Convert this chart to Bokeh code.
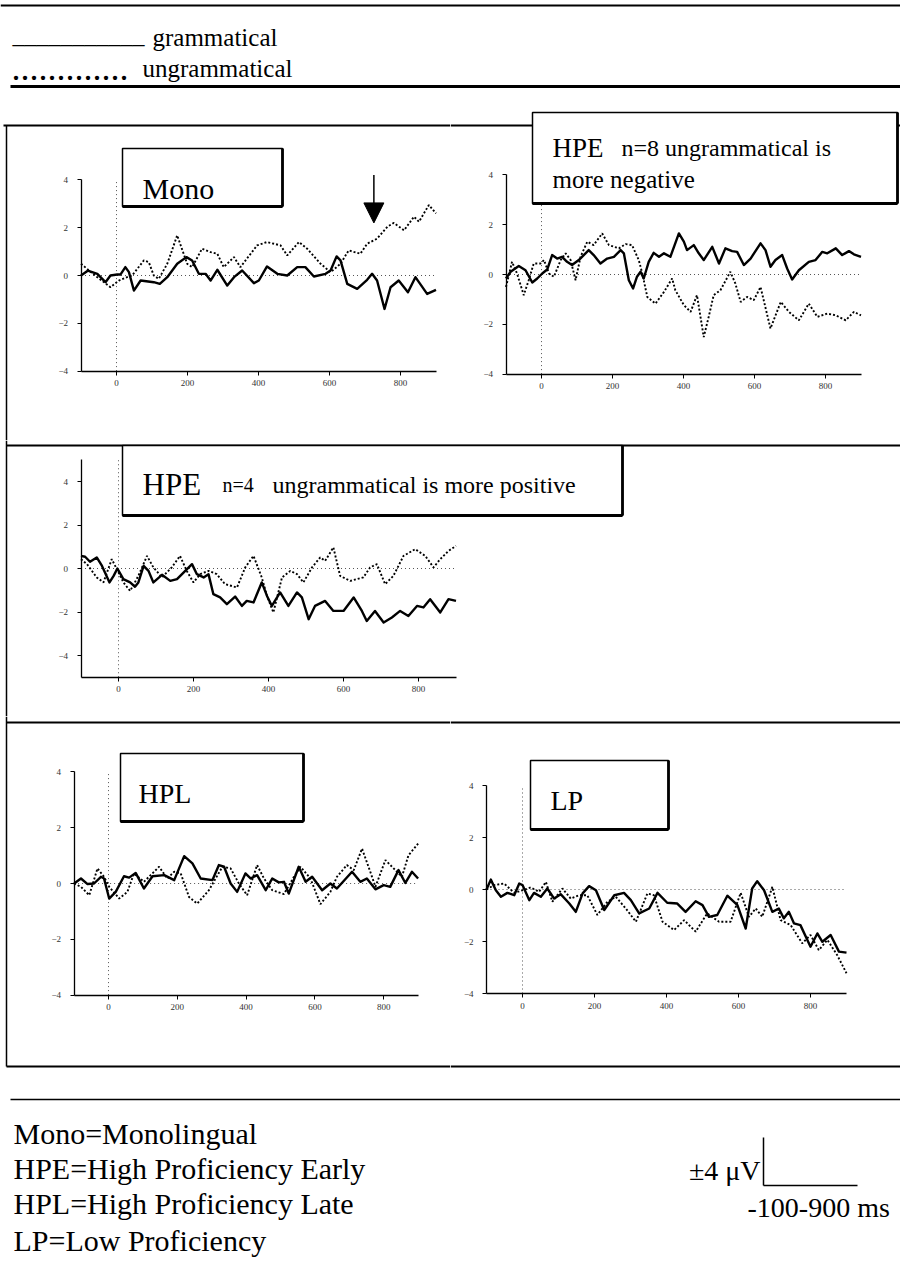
from bokeh.plotting import figure
from bokeh.layouts import column, row
from bokeh.models import Range1d, FixedTicker, Arrow, NormalHead
from bokeh.core.properties import value
from bokeh.embed import file_html
from bokeh.resources import INLINE

SERIF = "Liberation Serif"
T_START, T_END = -100, 900
TIME_TICKS = [0, 200, 400, 600, 800]
AMP_TICKS = [-4, -2, 0, 2, 4]

# ---------------- data (ms, microvolts) ----------------
mono_gram_t = [-100, -81, -54, -31, -17, 2, 11, 25, 35, 49, 68, 105, 122, 143, 171, 197, 213, 232, 251, 265,
               284, 312, 331, 354, 387, 401, 424, 453, 481, 509, 532, 556, 589, 603, 620, 631, 650, 678, 706, 720,
               734, 755, 772, 795, 821, 842, 875, 900]
mono_gram_v = [0, 0.2, 0.07, -0.28, 0, 0.04, 0.04, 0.35, 0.14, -0.63, -0.21, -0.28, -0.35, -0.07, 0.49, 0.77, 0.63, 0.07, 0.07, -0.21,
               0.24, -0.42, -0.07, 0.21, -0.32, -0.21, 0.38, 0.07, 0, 0.35, 0.35, -0.04, 0.07, 0.21, 0.8, 0.63, -0.35, -0.56, -0.18, 0.07,
               -0.21, -1.4, -0.49, -0.21, -0.7, -0.07, -0.77, -0.6]
mono_ungram_t = [-100, -83, -54, -17, 7, 30, 44, 77, 91, 105, 119, 143, 171, 199, 213, 241, 265, 284, 302, 331,
                 349, 396, 424, 462, 481, 514, 537, 575, 603, 631, 654, 687, 706, 734, 763, 781, 810, 838, 852, 880, 900]
mono_ungram_v = [0.49, 0.28, -0.07, -0.49, -0.21, -0.07, 0, 0.63, 0.56, 0, -0.14, 0.49, 1.68, 0.49, 0.35, 1.12, 0.98, 0.91, 0.35, 0.77,
                 0.35, 1.26, 1.4, 1.26, 0.84, 1.4, 1.12, 0.49, 0.14, 0.49, 1.05, 0.91, 1.33, 1.54, 2.04, 2.2, 1.89, 2.46, 2.25, 2.95, 2.6]

hpe8_gram_t = [-100, -87, -64, -45, -26, -12, 2, 16, 30, 44, 58, 72, 86, 105, 119, 133, 147, 166, 185, 204,
               223, 232, 246, 258, 269, 279, 288, 302, 316, 331, 345, 363, 387, 401, 410, 429, 443, 457, 481, 500,
               518, 537, 551, 570, 589, 617, 631, 645, 659, 678, 692, 706, 725, 753, 772, 791, 805, 829, 847, 866, 880, 900]
hpe8_gram_v = [-0.16, 0.11, 0.34, 0.17, -0.32, -0.16, 0.04, 0.2, 0.78, 0.64, 0.71, 0.51, 0.38, 0.58, 0.78, 0.98, 0.78, 0.44, 0.64, 0.71,
               0.98, 0.85, -0.23, -0.56, -0.09, 0.11, -0.16, 0.51, 0.87, 0.71, 0.85, 0.71, 1.65, 1.32, 0.98, 1.18, 0.85, 0.58, 1.11, 0.44,
               1.05, 0.94, 0.91, 0.38, 0.64, 1.25, 0.98, 0.31, 0.58, 0.78, 0.24, -0.2, 0.17, 0.51, 0.58, 0.91, 0.85, 1.05, 0.78, 0.94, 0.81, 0.71]
hpe8_ungram_t = [-100, -83, -69, -50, -36, -22, -3, 7, 21, 35, 54, 68, 82, 96, 110, 129, 147, 171, 190, 218,
                 237, 255, 274, 284, 298, 321, 345, 368, 377, 401, 420, 438, 457, 471, 485, 504, 532, 546, 561, 579,
                 598, 617, 645, 674, 697, 725, 753, 777, 805, 829, 857, 880, 900]
hpe8_ungram_v = [-0.5, 0.51, 0.04, -0.83, -0.23, 0.44, 0.44, 0.58, 0.04, -0.09, 0.58, 0.85, 0.58, -0.23, 0.71, 1.32, 1.18, 1.65, 1.18, 1.05,
                 1.22, 1.18, 0.58, 0.04, -0.9, -1.17, -0.7, -0.16, -0.63, -1.23, -1.5, -0.83, -2.51, -1.7, -0.83, -0.63, 0.11, -0.36, -1.1, -0.9,
                 -1.03, -0.5, -2.17, -1.1, -1.5, -1.84, -1.17, -1.7, -1.57, -1.64, -1.84, -1.5, -1.64]

hpe4_gram_t = [-100, -89, -76, -58, -44, -24, -13, -3, 13, 31, 44, 53, 67, 80, 93, 116, 138, 156, 178, 196,
               209, 227, 240, 253, 271, 289, 311, 329, 342, 360, 382, 396, 409, 431, 453, 476, 489, 507, 524, 551,
               573, 600, 627, 649, 662, 684, 707, 729, 751, 773, 796, 813, 831, 858, 880, 900]
hpe4_gram_v = [0.58, 0.54, 0.31, 0.51, 0.12, -0.64, -0.34, 0, -0.49, -0.64, -0.84, -0.64, 0.12, -0.11, -0.64, -0.29, -0.57, -0.49, -0.11, 0.2,
               -0.26, -0.41, -0.26, -1.18, -1.33, -1.64, -1.29, -1.72, -1.49, -1.56, -0.64, -1.26, -1.72, -1.1, -1.72, -1.1, -1.33, -2.33, -1.72, -1.49,
               -1.95, -1.95, -1.33, -1.95, -2.41, -1.95, -2.48, -2.25, -1.95, -2.18, -1.72, -1.79, -1.41, -2.02, -1.41, -1.49]
hpe4_ungram_t = [-100, -84, -58, -40, -18, 0, 13, 31, 53, 76, 93, 116, 142, 164, 182, 200, 218, 240, 262, 284,
                 316, 338, 360, 382, 396, 413, 436, 458, 476, 493, 516, 538, 551, 573, 591, 618, 653, 671, 689, 711,
                 733, 760, 791, 818, 840, 858, 880, 900]
hpe4_ungram_v = [0.43, 0.2, -0.41, -0.64, 0.43, -0.18, -0.64, -1.03, -0.34, 0.58, 0.05, -0.41, 0.05, 0.58, -0.11, -0.64, -0.26, -0.11, -0.26, -0.72,
                 -0.87, 0.05, 0.58, -0.41, -1.26, -2.02, -0.41, -0.11, -0.26, -0.64, 0.05, 0.51, 0.35, 0.97, -0.34, -0.57, -0.41, 0.05, 0.2, -0.72,
                 -0.34, 0.58, 0.89, 0.58, 0.05, 0.43, 0.81, 1.04]

hpl_gram_t = [-100, -80, -61, -42, -22, -13, 2, 21, 45, 60, 79, 103, 128, 162, 191, 220, 244, 268, 302, 321,
              336, 355, 374, 398, 413, 432, 457, 476, 495, 510, 524, 553, 573, 592, 621, 645, 664, 708, 732, 751,
              776, 800, 819, 843, 863, 882, 900]
hpl_gram_v = [0, 0.18, -0.02, 0, 0.24, 0.18, -0.54, -0.3, 0.26, 0.21, 0.38, -0.18, 0.26, 0.3, 0.12, 0.98, 0.72, 0.18, 0.12, 0.66,
              0.6, 0, -0.3, 0.36, 0.18, 0.3, -0.24, 0.18, 0.04, 0.06, -0.36, 0.6, 0.06, 0.24, -0.24, 0, -0.18, 0.42, 0.06, 0.18,
              -0.21, -0.06, -0.12, 0.48, 0.02, 0.42, 0.18]
hpl_ungram_t = [-100, -80, -56, -32, -13, 2, 31, 55, 74, 103, 147, 171, 191, 210, 234, 258, 292, 331, 355, 379,
                403, 432, 452, 476, 510, 539, 558, 587, 616, 645, 664, 693, 713, 737, 761, 776, 805, 829, 853, 872, 900]
hpl_ungram_v = [0, -0.12, -0.42, 0.54, 0.24, -0.12, -0.54, -0.3, 0.36, 0.06, 0.6, 0.18, 0.42, 0.36, -0.48, -0.72, -0.24, 0.6, 0.54, 0,
                -0.42, 0.66, 0.18, -0.24, -0.38, 0.24, 0.6, 0.18, -0.74, -0.3, 0.24, 0.66, 0.48, 1.25, 0.42, -0.12, 0.84, 0.54, 0.24, 1.01, 1.43]

lp_gram_t = [-100, -88, -74, -60, -42, -23, -9, 0, 19, 32, 51, 69, 88, 106, 130, 148, 167, 185, 204, 227,
             255, 282, 301, 324, 352, 375, 402, 430, 453, 481, 500, 518, 541, 569, 597, 620, 638, 652, 671, 694,
             712, 726, 740, 754, 772, 800, 819, 833, 856, 879, 900]
lp_gram_v = [0, 0.38, -0.03, -0.28, -0.13, -0.22, 0.23, 0.17, -0.41, -0.13, -0.28, 0.04, -0.35, -0.18, -0.54, -0.86, -0.15, 0.13, -0.03, -0.79,
             -0.22, -0.13, -0.41, -0.92, -0.73, -0.13, -0.51, -0.54, -0.86, -0.45, -0.6, -1.05, -0.98, -0.24, -0.6, -1.5, 0.04, 0.32, -0.03, -0.86,
             -0.73, -1.11, -0.86, -1.3, -1.37, -2.2, -1.69, -2.01, -1.75, -2.39, -2.43]
lp_ungram_t = [-100, -79, -51, -23, 0, 23, 46, 65, 83, 111, 134, 157, 180, 208, 236, 259, 287, 315, 347, 365,
               389, 421, 449, 481, 513, 546, 578, 606, 629, 648, 666, 694, 717, 745, 777, 800, 823, 847, 874, 900]
lp_ungram_v = [0, 0.17, 0.23, -0.13, -0.03, 0.08, -0.09, 0.29, -0.47, 0.04, -0.35, -0.22, -0.22, -0.98, -0.47, -0.28, -0.73, -1.24, -0.15, -0.22,
               -1.24, -1.56, -1.18, -1.62, -0.92, -1.24, -1.24, -0.13, -1.05, -0.73, -1.05, 0.1, -1.18, -1.37, -2.07, -1.75, -2.33, -1.94, -2.52, -3.22]

ARROW_T = 725
ARROW_FROM, ARROW_TO = 4.2, 2.2

# ---------------- helpers ----------------
COMMON = dict(output_backend="svg", toolbar_location=None, min_border=0,
              min_border_left=0, min_border_right=0, min_border_top=0, min_border_bottom=0,
              outline_line_color=None, background_fill_color="white", border_fill_color="white")
PX = dict(x_range_name="px", y_range_name="px")


def page_fig(X0, X1, Y0, Y1):
    p = figure(width=X1 - X0, height=Y1 - Y0, x_range=Range1d(X0, X1), y_range=Range1d(Y1, Y0),
               x_axis_location=None, y_axis_location=None, **COMMON)
    p.extra_x_ranges = {"px": Range1d(X0, X1)}
    p.extra_y_ranges = {"px": Range1d(Y1, Y0)}
    p.grid.visible = False
    return p


def data_fig(X0, X1, Y0, Y1, x0px, xs, y0px, ys, lim):
    p = figure(width=X1 - X0, height=Y1 - Y0,
               x_range=Range1d((X0 - x0px) / xs, (X1 - x0px) / xs),
               y_range=Range1d((y0px - Y1) / ys, (y0px - Y0) / ys), **COMMON)
    p.extra_x_ranges = {"px": Range1d(X0, X1)}
    p.extra_y_ranges = {"px": Range1d(Y1, Y0)}
    p.grid.visible = False
    xa, ya = p.xaxis[0], p.yaxis[0]
    xa.fixed_location = -lim
    ya.fixed_location = T_START
    xa.bounds = (T_START, T_END)
    ya.bounds = (-lim, lim)
    xa.ticker = FixedTicker(ticks=TIME_TICKS)
    ya.ticker = FixedTicker(ticks=AMP_TICKS)
    for ax in (xa, ya):
        ax.axis_line_color = "black"
        ax.axis_line_width = 1.3
        ax.major_tick_line_color = "black"
        ax.major_tick_out = 4
        ax.major_tick_in = 0
        ax.minor_tick_out = 0
        ax.minor_tick_in = 0
        ax.major_label_text_font = SERIF
        ax.major_label_text_font_size = "9px"
        ax.major_label_text_color = "#333333"
    xa.major_label_standoff = 5
    ya.major_label_standoff = 9
    return p


def hline(p, x0, x1, y, w):
    p.segment(x0=[x0], y0=[y], x1=[x1], y1=[y], line_color="black", line_width=w, **PX)


def vline(p, x, y0, y1, w):
    p.segment(x0=[x], y0=[y0], x1=[x], y1=[y1], line_color="black", line_width=w, **PX)


def txt(p, x, y, s, size, align="left"):
    p.text(x=[x], y=[y], text=[s], text_font=value(SERIF), text_font_size=f"{size}px",
           text_align=align, text_baseline="alphabetic", text_color="black", **PX)


def label_box(p, l, r, t, b):
    p.quad(left=[l], right=[r], top=[t], bottom=[b], fill_color="white",
           line_color="black", line_width=1.5, **PX)
    p.segment(x0=[l, r], y0=[b, t], x1=[r, r], y1=[b, b], line_color="black", line_width=2.8, **PX)


def draw_erp(p, tg, vg, tu, vu, lim):
    p.segment(x0=[T_START], y0=[0], x1=[T_END], y1=[0], line_color="#555555", line_width=1, line_dash="1 3")
    p.segment(x0=[0], y0=[-lim], x1=[0], y1=[lim], line_color="#555555", line_width=1, line_dash="1 3")
    p.line(tu, vu, line_color="black", line_width=1.9, line_dash="2 2")
    p.line(tg, vg, line_color="black", line_width=2.4, line_join="round")


# ---------------- header ----------------
header = page_fig(0, 900, 0, 110)
hline(header, 0, 900, 5, 2)
txt(header, 12, 34, "___________", 24)
txt(header, 152, 37, "grammatical", 25)
txt(header, 11, 67, ".............", 36)
txt(header, 142, 68, "ungrammatical", 25)
hline(header, 10, 900, 86, 3)

# ---------------- row 1 ----------------
p1 = data_fig(0, 450, 110, 440, 116, 0.355, 275, 23.9, 4)
draw_erp(p1, mono_gram_t, mono_gram_v, mono_ungram_t, mono_ungram_v, 4)
hline(p1, 3, 450, 125, 2)
vline(p1, 6, 125, 440, 1.5)
label_box(p1, 122, 282, 148, 206)
txt(p1, 142, 188, "Mono", 30)
p1.add_layout(Arrow(end=NormalHead(size=20, fill_color="black", line_color="black"),
                    x_start=ARROW_T, y_start=ARROW_FROM, x_end=ARROW_T, y_end=ARROW_TO,
                    line_width=1.5, line_color="black"))

p2 = data_fig(450, 900, 110, 440, 541, 0.355, 274, 24.9, 4)
draw_erp(p2, hpe8_gram_t, hpe8_gram_v, hpe8_ungram_t, hpe8_ungram_v, 4)
hline(p2, 450, 900, 125, 2)
label_box(p2, 532, 897, 112, 203)
txt(p2, 552, 147, "HPE", 27)
txt(p2, 621, 147, "n=8 ungrammatical is", 24)
txt(p2, 552, 179, "more negative", 25)

# ---------------- row 2 ----------------
p3 = data_fig(0, 900, 440, 716, 118, 0.375, 568, 21.75, 5)
draw_erp(p3, hpe4_gram_t, hpe4_gram_v, hpe4_ungram_t, hpe4_ungram_v, 5)
hline(p3, 6, 900, 445, 2)
vline(p3, 6, 440, 716, 1.5)
label_box(p3, 122, 622, 445, 515)
txt(p3, 142, 484, "HPE", 31)
txt(p3, 222, 484, "n=4", 20)
txt(p3, 272, 484, "ungrammatical is more positive", 24)

# ---------------- row 3 ----------------
p4 = data_fig(0, 450, 716, 1080, 108, 0.344, 883, 27.9, 4)
draw_erp(p4, hpl_gram_t, hpl_gram_v, hpl_ungram_t, hpl_ungram_v, 4)
hline(p4, 6, 450, 722, 2)
vline(p4, 6, 716, 1066, 1.5)
hline(p4, 6, 450, 1066, 2)
label_box(p4, 120, 303, 753, 821)
txt(p4, 138, 793, "HPL", 28)

p5 = data_fig(450, 900, 716, 1080, 522, 0.36, 889, 26.0, 4)
draw_erp(p5, lp_gram_t, lp_gram_v, lp_ungram_t, lp_ungram_v, 4)
hline(p5, 450, 900, 722, 2)
hline(p5, 450, 900, 1066, 2)
label_box(p5, 530, 668, 760, 829)
txt(p5, 550, 800, "LP", 28)

# ---------------- footer ----------------
footer = page_fig(0, 900, 1080, 1277)
hline(footer, 10, 900, 1099, 1.5)
txt(footer, 13, 1133, "Mono=Monolingual", 30)
txt(footer, 13, 1168, "HPE=High Proficiency Early", 30)
txt(footer, 13, 1203, "HPL=High Proficiency Late", 30)
txt(footer, 13, 1240, "LP=Low Proficiency", 30)
txt(footer, 760, 1170, "\u00b14 \u03bcV", 28, align="right")
vline(footer, 763, 1137, 1185, 1.5)
hline(footer, 763, 857, 1185, 1.5)
txt(footer, 747, 1207, "-100-900 ms", 28)

layout = column(header, row(p1, p2), p3, row(p4, p5), footer)
open("out.html", "w").write(file_html(layout, INLINE))
